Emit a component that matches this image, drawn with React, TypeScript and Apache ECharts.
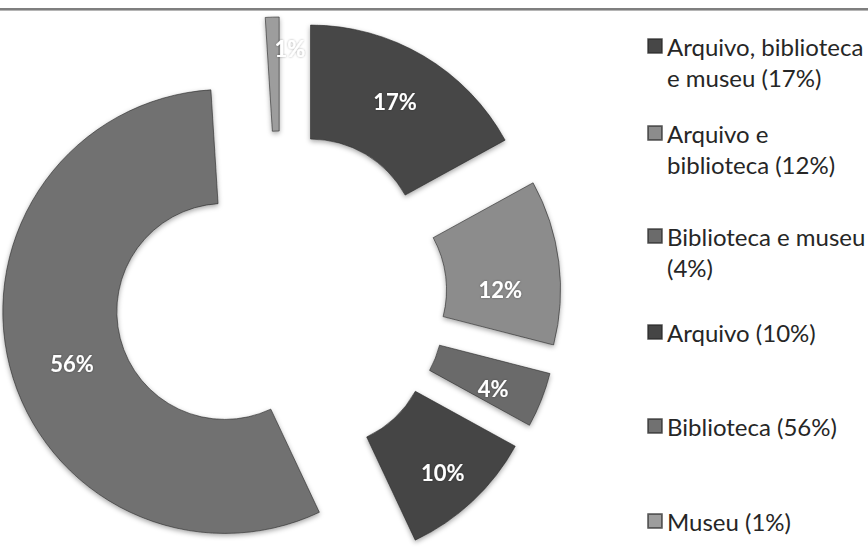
import React, { useEffect, useRef } from "react";
import * as echarts from "echarts";

const categories = [
  "Arquivo, biblioteca e museu",
  "Arquivo e biblioteca",
  "Biblioteca e museu",
  "Arquivo",
  "Biblioteca",
  "Museu",
];
const values = [17, 12, 4, 10, 56, 1];
const legendLabels = [
  "Arquivo, biblioteca\ne museu (17%)",
  "Arquivo e\nbiblioteca (12%)",
  "Biblioteca e museu\n(4%)",
  "Arquivo (10%)",
  "Biblioteca (56%)",
  "Museu (1%)",
];
const sliceColors = ["#474747", "#8c8c8c", "#6b6b6b", "#454545", "#717171", "#9d9d9d"];

// layout constants
const legendFirstLineCenters = [46, 133, 236, 332, 426, 521];
const labelNudges: [number, number][] = [
  [-1, -1],
  [-5, 21],
  [2, 8],
  [7, 11],
  [10, 10],
  [16, -23],
];
const LINE_H = 31;

export default function App() {
  const ref = useRef<HTMLDivElement>(null);
  useEffect(() => {
    if (!ref.current) return;
    const chart = echarts.init(ref.current, undefined, { renderer: "svg" });
    const legends = categories.map((name, i) => {
      const lines = legendLabels[i].split("\n").length;
      const text = lines > 1 ? "\n" + legendLabels[i] : legendLabels[i];
      const totalLines = lines > 1 ? lines + 1 : 1;
      const top = legendFirstLineCenters[i] - (totalLines * LINE_H) / 2;
      return {
        show: true,
        orient: "vertical",
        left: 647,
        top,
        padding: 0,
        itemWidth: 14,
        itemHeight: 14,
        itemGap: 0,
        icon: "rect",
        selectedMode: false,
        data: [name],
        formatter: () => text,
        textStyle: {
          fontFamily: "Lato",
          fontSize: 24,
          lineHeight: LINE_H,
          color: "#262626",
        },
      };
    });
    chart.setOption({
      animation: false,
      legend: legends,
      graphic: [
        { type: "rect", shape: { x: 0, y: 8, width: 868, height: 2 }, style: { fill: "#7f7f7f" }, silent: true },
        { type: "rect", shape: { x: 0, y: 10, width: 868, height: 1 }, style: { fill: "#b5b5b5" }, silent: true },
      ],
      series: [
        {
          type: "pie",
          center: [281, 297],
          radius: [108, 222],
          startAngle: 90,
          clockwise: true,
          selectedMode: "multiple",
          selectedOffset: 58,
          emphasis: { disabled: true },
          avoidLabelOverlap: false,
          labelLine: { show: false },
          itemStyle: {
            shadowBlur: 5,
            shadowColor: "rgba(0,0,0,0.35)",
            shadowOffsetY: 2,
            borderColor: "rgba(40,40,40,0.6)",
            borderWidth: 1,
          },
          label: {
            show: true,
            position: "inside",
            formatter: "{c}%",
            color: "#ffffff",
            fontFamily: "Lato",
            fontWeight: "bold",
            fontSize: 22,
            textShadowColor: "rgba(0,0,0,0.35)",
            textShadowBlur: 2,
          },
          labelLayout: (p: any) => {
            const n = labelNudges[p.dataIndex];
            return n ? { dx: n[0], dy: n[1] } : {};
          },
          data: categories.map((name, i) => ({
            name,
            value: values[i],
            selected: true,
            itemStyle: { color: sliceColors[i] },
          })),
        },
      ],
    });
    return () => chart.dispose();
  }, []);
  return (
    <div
      ref={ref}
      style={{ position: "absolute", left: 0, top: 0, width: 868, height: 554, background: "#ffffff" }}
    />
  );
}
